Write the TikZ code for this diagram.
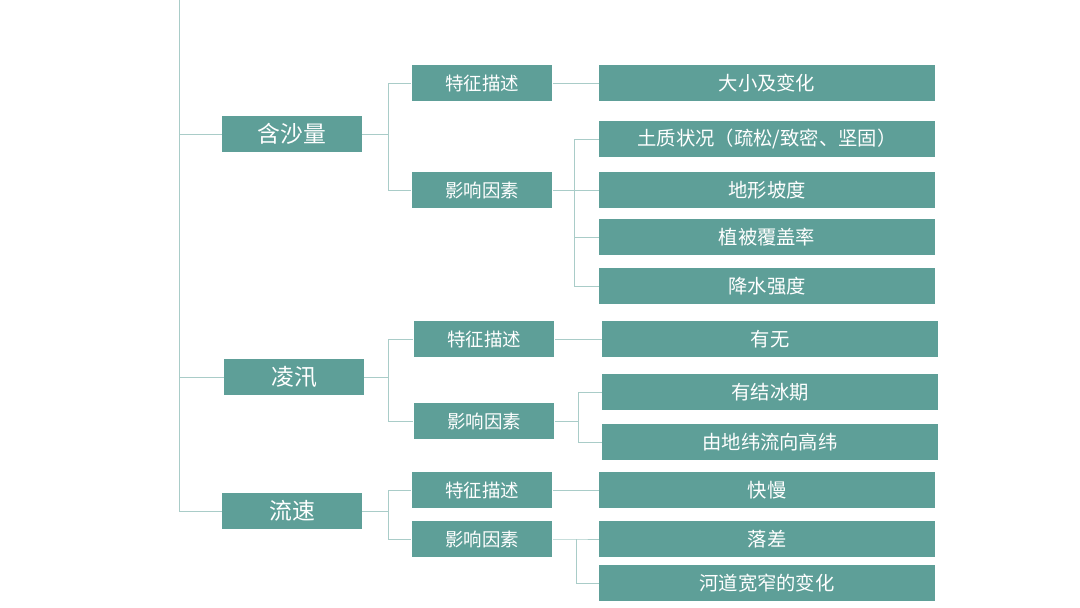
\documentclass[tikz,border=0pt]{standalone}
\usepackage{fontspec}
\setmainfont{Noto Sans CJK SC}
\begin{document}
\begin{tikzpicture}[x=0.02cm,y=-0.02cm,
  box/.style={fill=boxteal,text=white,inner sep=0pt,minimum height=0.71cm},
  lone/.style={box,minimum width=2.8cm,font=\fontsize{13}{15}\selectfont},
  ltwo/.style={box,minimum width=2.82cm,font=\fontsize{10.5}{12}\selectfont},
  lthree/.style={box,minimum width=6.72cm,font=\fontsize{11}{13}\selectfont},
  link/.style={draw=linkteal,line width=0.5pt}]
            \definecolor{boxteal}{HTML}{5E9F98}
            \definecolor{linkteal}{HTML}{A9CCC8}
            \useasboundingbox (0,0) rectangle (1080,608);

            \node (sand) at (292,134) [lone] {含沙量};
            \node (ice) at (294,377) [lone] {凌汛};
            \node (flow) at (292,511) [lone] {流速};

            \node (sandf) at (482,83) [ltwo] {特征描述};
            \node (sandi) at (482,190) [ltwo] {影响因素};
            \node (icef) at (484,339) [ltwo] {特征描述};
            \node (icei) at (484,421) [ltwo] {影响因素};
            \node (flowf) at (482,490) [ltwo] {特征描述};
            \node (flowi) at (482,539) [ltwo] {影响因素};

            \node (s1) at (767,83) [lthree] {大小及变化};
            \node (s2) at (767,139) [lthree] {土质状况（疏松/致密、坚固）};
            \node (s3) at (767,190) [lthree] {地形坡度};
            \node (s4) at (767,237) [lthree] {植被覆盖率};
            \node (s5) at (767,286) [lthree] {降水强度};
            \node (i1) at (770,339) [lthree] {有无};
            \node (i2) at (770,392) [lthree] {有结冰期};
            \node (i3) at (770,442) [lthree] {由地纬流向高纬};
            \node (f1) at (767,490) [lthree] {快慢};
            \node (f2) at (767,539) [lthree] {落差};
            \node (f3) at (767,583) [lthree] {河道宽窄的变化};

            \coordinate (top) at (179,0);
            \coordinate (bottom) at (179,511);

            % trunk and first level
            \draw[link] (top) -- (bottom) -- (flow.west);
            \draw[link] (sand.west) -- (sand.west -| top) (ice.west) -- (ice.west -| top);

            % second level
            \draw[link] (sand.east) -- ++(26,0) |- (sandf.west) (sand.east) ++(26,0) |- (sandi.west);
            \draw[link] (ice.east) -- ++(24,0) |- (icef.west) (ice.east) ++(24,0) |- (icei.west);
            \draw[link] (flow.east) -- ++(26,0) |- (flowf.west) (flow.east) ++(26,0) |- (flowi.west);

            % third level
            \draw[link] (sandf.east) -- (s1.west) (icef.east) -- (i1.west) (flowf.east) -- (f1.west);
            \draw[link] (sandi.east) -- ++(22,0) |- (s2.west) (sandi.east) ++(22,0) |- (s3.west)
                        (sandi.east) ++(22,0) |- (s4.west) (sandi.east) ++(22,0) |- (s5.west);
            \draw[link] (icei.east) -- ++(24,0) |- (i2.west) (icei.east) ++(24,0) |- (i3.west);
            \draw[link] (flowi.east) -- ++(24,0) |- (f2.west) (flowi.east) ++(24,0) |- (f3.west);

        \end{tikzpicture}
\end{document}
